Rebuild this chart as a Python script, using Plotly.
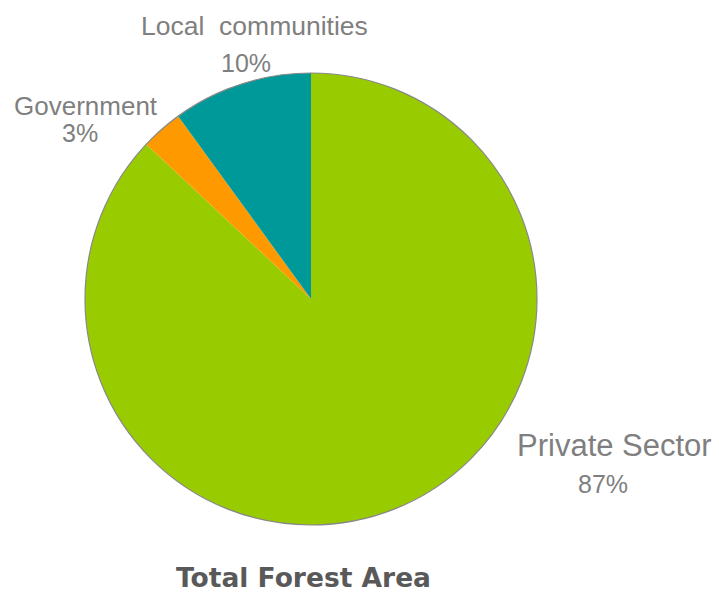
import plotly.graph_objects as go

labels = ["Private Sector", "Government", "Local communities"]
values = [87, 3, 10]
colors = ["#99CC00", "#FF9900", "#009999"]
label_text = ["Private Sector", "Government", "Local&nbsp;&nbsp;communities"]
pct_text = ["87%", "3%", "10%"]

W, H = 719, 592
cx, cy, r = 311, 299, 226

def px(x):
    return x / W

def py(y):
    return 1 - y / H

fig = go.Figure()
fig.add_trace(go.Pie(
    labels=labels, values=values, sort=False, direction="clockwise", rotation=0,
    marker=dict(colors=colors, line=dict(width=0)),
    textinfo="none", hoverinfo="label+percent", showlegend=False,
    domain=dict(x=[px(cx - r), px(cx + r)], y=[py(cy + r), py(cy - r)]),
))

# outline circle
fig.add_shape(type="circle", xref="paper", yref="paper",
              x0=px(cx - r), x1=px(cx + r), y0=py(cy + r), y1=py(cy - r),
              line=dict(color="#888888", width=1.2), fillcolor="rgba(0,0,0,0)")

gray = "#7f7f7f"
font = "Liberation Sans, Arial, sans-serif"
# label positions (pixel centers)
label_pos = [(614, 445, 31), (86, 106, 26), (254, 26, 26.5)]
pct_pos = [(603, 483, 25), (80, 132, 25), (246, 63, 25)]
for t, (x, y, s) in zip(label_text, label_pos):
    fig.add_annotation(text=t, x=px(x), y=py(y), xref="paper", yref="paper",
                       showarrow=False, xanchor="center", yanchor="middle",
                       height=int(s * 0.85),
                       font=dict(family=font, size=s, color=gray))
for t, (x, y, s) in zip(pct_text, pct_pos):
    fig.add_annotation(text=t, x=px(x), y=py(y), xref="paper", yref="paper",
                       showarrow=False, xanchor="center", yanchor="middle",
                       height=int(s * 0.85),
                       font=dict(family=font, size=s, color=gray))

fig.add_annotation(text="<b>Total Forest Area</b>", x=px(303), y=py(577),
                   xref="paper", yref="paper", showarrow=False,
                   xanchor="center", yanchor="middle",
                   font=dict(family="DejaVu Sans, sans-serif", size=26.5, color="#595959"))

fig.update_layout(width=W, height=H, margin=dict(l=0, r=0, t=0, b=0),
                  paper_bgcolor="white", plot_bgcolor="white")
fig.write_html("out.html")
